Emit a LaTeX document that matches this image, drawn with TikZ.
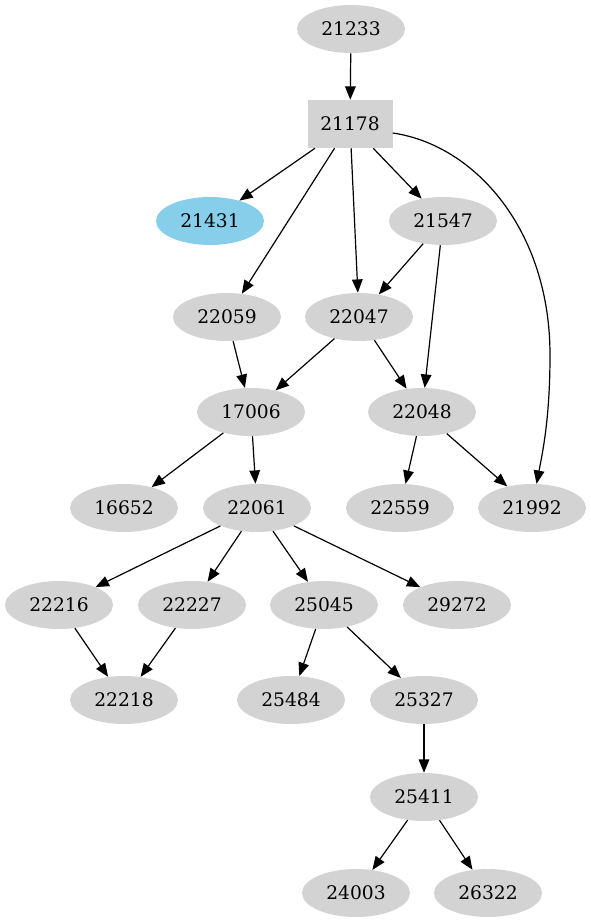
\documentclass[tikz,border=0pt]{standalone}
\usepackage{fontspec}
\setmainfont{DejaVu Serif}
\usetikzlibrary{arrows.meta,shapes.geometric}
\definecolor{nodegray}{RGB}{211,211,211}
\definecolor{skyblue}{RGB}{135,206,235}
\tikzset{
  vertex/.style={ellipse,fill=nodegray,minimum width=81pt,minimum height=36pt,inner sep=0pt,font=\fontsize{14}{16}\selectfont},
  rootv/.style={vertex,rectangle,minimum width=63.75pt},
  markedv/.style={vertex,fill=skyblue},
  edge/.style={->,line width=.9pt}
}

\begin{document}
\begin{tikzpicture}[x=.75pt,y=-.75pt,>={Triangle[length=10pt,width=8pt]}]
  \useasboundingbox (0,0) rectangle (591,923);
  \node[vertex] (n21233) at (351,29) {21233};
  \node[rootv] (n21178) at (350,124) {21178};
  \node[markedv] (n21431) at (210,221) {21431};
  \node[vertex] (n21547) at (443,221) {21547};
  \node[vertex] (n22059) at (227,317) {22059};
  \node[vertex] (n22047) at (359,317) {22047};
  \node[vertex] (n17006) at (251,412) {17006};
  \node[vertex] (n22048) at (422,412) {22048};
  \node[vertex] (n16652) at (124,508) {16652};
  \node[vertex] (n22061) at (257,508) {22061};
  \node[vertex] (n22559) at (400,508) {22559};
  \node[vertex] (n21992) at (532,508) {21992};
  \node[vertex] (n22216) at (59,605) {22216};
  \node[vertex] (n22227) at (192,605) {22227};
  \node[vertex] (n25045) at (324,605) {25045};
  \node[vertex] (n29272) at (457,605) {29272};
  \node[vertex] (n22218) at (124,700) {22218};
  \node[vertex] (n25484) at (291,700) {25484};
  \node[vertex] (n25327) at (424,700) {25327};
  \node[vertex] (n25411) at (424,797) {25411};
  \node[vertex] (n24003) at (356,893) {24003};
  \node[vertex] (n26322) at (488,893) {26322};
  \draw[edge] (n21233)--(n21178);
  \draw[edge] (n21178)--(n21431); \draw[edge] (n21178)--(n22059);
  \draw[edge] (n21178)--(n22047); \draw[edge] (n21178)--(n21547);
  \draw[edge] ([yshift=-6.75pt]n21178.east) .. controls (475,145) and (550,230) .. (550,355)
    .. controls (550,420) and (542,455) .. (n21992);
  \draw[edge] (n21547)--(n22047); \draw[edge] (n21547)--(n22048);
  \draw[edge] (n22059)--(n17006);
  \draw[edge] (n22047)--(n17006); \draw[edge] (n22047)--(n22048);
  \draw[edge] (n17006)--(n16652); \draw[edge] (n17006)--(n22061);
  \draw[edge] (n22048)--(n22559); \draw[edge] (n22048)--(n21992);
  \draw[edge] (n22061)--(n22216); \draw[edge] (n22061)--(n22227);
  \draw[edge] (n22061)--(n25045); \draw[edge] (n22061)--(n29272);
  \draw[edge] (n22216)--(n22218); \draw[edge] (n22227)--(n22218);
  \draw[edge] (n25045)--(n25484); \draw[edge] (n25045)--(n25327);
  \draw[edge] (n25327)--(n25411);
  \draw[edge] (n25411)--(n24003); \draw[edge] (n25411)--(n26322);
\end{tikzpicture}
\end{document}
